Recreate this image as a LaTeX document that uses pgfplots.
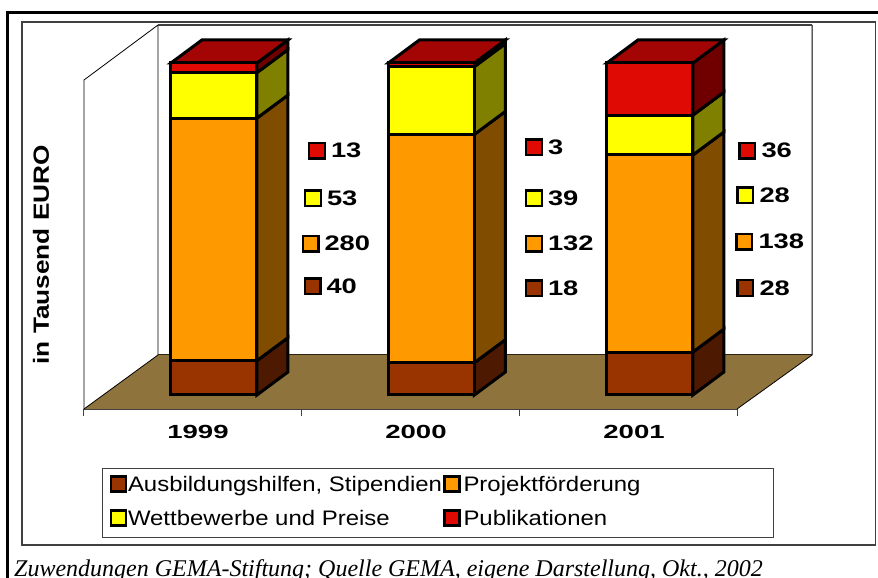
\documentclass[border=0pt]{standalone}
\usepackage{pgfplots}
\pgfplotsset{compat=1.18}
\usepackage{fontspec}
\setmainfont{Liberation Sans}
\newfontfamily\capfont{Liberation Serif}
\definecolor{cbrown}{HTML}{993300}
\definecolor{corange}{HTML}{FF9900}
\definecolor{cyellow}{HTML}{FFFF00}
\definecolor{cred}{HTML}{E00A05}
\definecolor{sbrown}{HTML}{4D1900}
\definecolor{sorange}{HTML}{7F4C00}
\definecolor{syellow}{HTML}{808000}
\definecolor{sred}{HTML}{700000}
\definecolor{ctop}{HTML}{A30505}
\definecolor{cfloor}{HTML}{8F733C}
\definecolor{cframe}{HTML}{404040}
\pgfplotsset{
  base/.style={
    at={(84pt,169pt)},anchor=south west,scale only axis,
    width=653pt,height=384pt,
    xmin=0,xmax=3,ymin=-4.217,ymax=111.446,clip=false},
  face/.style={fill=#1,draw=black,line width=3pt,line join=miter},
  lab/.style={only marks,mark=square*,mark size=7.8pt,
    mark options={fill=#1,draw=black,line width=2.4pt},
    nodes near coords,point meta=explicit symbolic,
    nodes near coords style={anchor=west,inner sep=0pt,xshift=12.5pt,xscale=1.3,
      font=\fontsize{21}{21}\selectfont\bfseries,text=black}}
}
\begin{document}
\begin{tikzpicture}
\path[use as bounding box] (0,0) rectangle (878pt,578pt);
\fill[white] (0,0) rectangle (878pt,578pt);
% outer frame
\draw[black,line width=3.6pt] (7.6pt,-2pt) -- (7.6pt,565.5pt) -- (880pt,565.5pt);
\draw[cframe,line width=1.6pt] (22pt,33pt) rectangle (875.5pt,556pt);
% caption
\node[anchor=base west,inner sep=0pt] at (14pt,1.5pt) {\capfont\itshape\fontsize{24}{24}\selectfont Zuwendungen GEMA-Stiftung; Quelle GEMA, eigene Darstellung, Okt., 2002};

\begin{axis}[base,
  axis x line=bottom,axis y line=left,
  x axis line style={-,draw=cframe,line width=1.6pt},
  y axis line style={-,draw=none},
  xtick={0.5237,1.525,2.527},
  xticklabels={1999,2000,2001},
  major tick length=0pt,
  xticklabel style={xscale=1.45,inner sep=0pt,yshift=-16pt,
    font=\fontsize{19}{19}\selectfont\bfseries},
  extra x ticks={0,1,2,3},
  extra x tick labels={},
  extra x tick style={major tick length=7pt,tick align=outside,
    tick style={draw=cframe,line width=1pt}},
  ytick=\empty,
  ylabel={in Tausend EURO},
  every axis y label/.style={at={(axis cs:-0.1975,42.2)},rotate=90,anchor=center,
    inner sep=0pt,xscale=1.19,font=\fontsize{22}{22}\selectfont\bfseries},
]
% floor and walls
\addplot[fill=cfloor,draw=none] coordinates {(0,-4.217) (3,-4.217) (3.345,12.05) (0.34,12.05)} --cycle;
\addplot[draw=black,line width=0.8pt] coordinates {(3,-4.217) (3.345,12.05) (3.345,111.446)};
\addplot[draw=black,line width=0.8pt] coordinates {(0,-4.217) (0,94.88) (0.34,111.446) (0.34,12.05)};
\addplot[draw=cframe,line width=1.4pt] coordinates {(0.34,111.446) (3.345,111.446)};
\addplot[draw=black!70!cfloor,line width=1pt] coordinates {(0.34,12.05) (3.345,12.05)};
\addplot[draw=black,line width=0.8pt] coordinates {(0,-4.217) (0.34,12.05)};
% 1999 side and top
\addplot[face=sbrown] coordinates {(.7946,0) (.9370,6.93) (.9370,17.26) (.7946,10.33)} --cycle;
\addplot[face=sorange] coordinates {(.7946,10.33) (.9370,17.26) (.9370,90.33) (.7946,83.4)} --cycle;
\addplot[face=syellow] coordinates {(.7946,83.4) (.9370,90.33) (.9370,104.03) (.7946,97.1)} --cycle;
\addplot[face=sred] coordinates {(.7946,97.1) (.9370,104.03) (.9370,106.93) (.7946,100)} --cycle;
\addplot[face=ctop] coordinates {(.3994,100) (.7946,100) (.9370,106.93) (.5418,106.93)} --cycle;
% 2000
\addplot[face=sbrown] coordinates {(1.7936,0) (1.9360,6.93) (1.9360,16.66) (1.7936,9.73)} --cycle;
\addplot[face=sorange] coordinates {(1.7936,9.73) (1.9360,16.66) (1.9360,85.43) (1.7936,78.5)} --cycle;
\addplot[face=syellow] coordinates {(1.7936,78.5) (1.9360,85.43) (1.9360,105.83) (1.7936,98.9)} --cycle;
\addplot[face=sred] coordinates {(1.7936,98.9) (1.9360,105.83) (1.9360,106.93) (1.7936,100)} --cycle;
\addplot[face=ctop] coordinates {(1.3984,100) (1.7936,100) (1.9360,106.93) (1.5408,106.93)} --cycle;
% 2001
\addplot[face=sbrown] coordinates {(2.7976,0) (2.9400,6.93) (2.9400,19.88) (2.7976,12.95)} --cycle;
\addplot[face=sorange] coordinates {(2.7976,12.95) (2.9400,19.88) (2.9400,79.23) (2.7976,72.3)} --cycle;
\addplot[face=syellow] coordinates {(2.7976,72.3) (2.9400,79.23) (2.9400,91.23) (2.7976,84.3)} --cycle;
\addplot[face=sred] coordinates {(2.7976,84.3) (2.9400,91.23) (2.9400,106.93) (2.7976,100)} --cycle;
\addplot[face=ctop] coordinates {(2.4024,100) (2.7976,100) (2.9400,106.93) (2.5448,106.93)} --cycle;
% value labels with colour keys
\addplot[lab=cred] table[meta=v] {
x y v
1.0704 73.64 13
2.0674 74.55 3
3.0482 73.64 36
};
\addplot[lab=cyellow] table[meta=v] {
x y v
1.0521 59.19 53
2.0674 59.19 39
3.0390 60.09 28
};
\addplot[lab=corange] table[meta=v] {
x y v
1.0406 45.63 280
2.0674 45.63 132
3.0344 46.23 138
};
\addplot[lab=cbrown] table[meta=v] {
x y v
1.0498 32.68 40
2.0674 32.08 18
3.0390 32.23 28
};
\end{axis}

\begin{axis}[base,hide axis,
  ybar stacked,bar width=86pt,
  legend columns=2,
  legend cell align=left,
  legend image code/.code={\draw[#1,line width=2.4pt] (0pt,-5.5pt) rectangle (15pt,9.5pt);},
  legend style={at={(axis cs:0.0827,-21.99)},anchor=north west,draw=cframe,line width=1.2pt,
    inner xsep=7pt,inner ysep=0.5pt,
    /tikz/column 3/.style={column sep=2pt},
    nodes={inner xsep=1pt,inner ysep=6.5pt,font=\fontsize{21}{24}\selectfont,text depth=5pt,text height=16pt}},
]
\addplot[face=cbrown] coordinates {(.597,10.33) (1.596,9.73) (2.600,12.95)};
\addplot[face=corange] coordinates {(.597,73.07) (1.596,68.77) (2.600,59.35)};
\addplot[face=cyellow] coordinates {(.597,13.7) (1.596,20.4) (2.600,12.0)};
\addplot[face=cred] coordinates {(.597,2.9) (1.596,1.1) (2.600,15.7)};
\addlegendentry{\scalebox{1.14}[1]{Ausbildungshilfen, Stipendien}}
\addlegendentry{\makebox[302pt][l]{\scalebox{1.14}[1]{Projektförderung}}}
\addlegendentry{\scalebox{1.14}[1]{Wettbewerbe und Preise}}
\addlegendentry{\scalebox{1.14}[1]{Publikationen}}
\end{axis}
\end{tikzpicture}
\end{document}
